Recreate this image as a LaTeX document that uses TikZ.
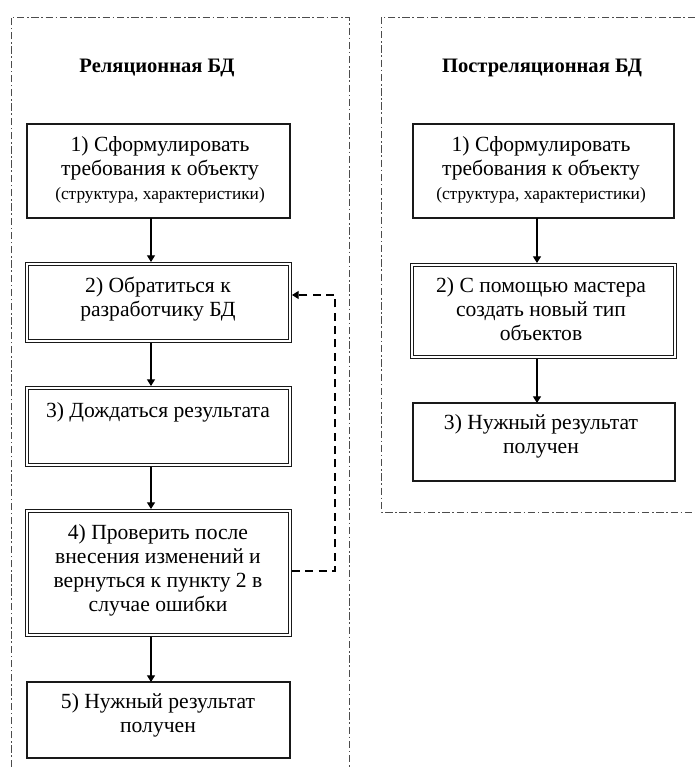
\documentclass[tikz,border=0pt]{standalone}
\usepackage{fontspec}
\setmainfont{Liberation Serif}
\usetikzlibrary{arrows.meta}

\tikzset{
  frame/.style={draw=black!70, line width=0.7pt,
    dash pattern=on 5.5pt off 2pt on 1.2pt off 2pt},
  plainbox/.style={draw=black!90, line width=1pt, rectangle, inner sep=0pt, outer sep=0pt},
  dblbox/.style={draw=black!90, line width=0.9pt, double, double distance=1.3pt,
    rectangle, inner sep=0pt, outer sep=1.5pt},
  boxtext/.style={align=center, inner sep=0pt, font=\fontsize{16.2}{18}\selectfont},
  heading/.style={inner sep=0pt, font=\fontsize{15.4}{18}\selectfont\bfseries},
  flow/.style={draw=black, line width=0.9pt, -{Triangle[width=6pt,length=5pt]}},
  back/.style={draw=black, line width=0.9pt, dash pattern=on 6pt off 4pt,
    -{Triangle[width=6pt,length=5pt]}},
}
\newcommand{\smallline}[1]{{\fontsize{13}{15}\selectfont #1}}

\begin{document}
\begin{tikzpicture}[x=0.75pt, y=-0.75pt]
  \useasboundingbox (0,0) rectangle (695,767);

  % dash-dot frames
  \draw[frame] (11,767) -- (11,17) -- (349,17) -- (349,767);
  \draw[frame] (695,17) -- (381,17) -- (381,512) -- (695,512);

  % headings
  \node[heading] (hl) at (157,68) {Реляционная БД};
  \node[heading] (hr) at (542,68) {Постреляционная БД};

  % left column
  \node[plainbox, minimum width=263*0.75pt, minimum height=94*0.75pt] (b1) at (158.5,171) {};
  \node[dblbox, minimum width=263*0.75pt, minimum height=77*0.75pt] (b2) at (158.5,302.5) {};
  \node[dblbox, minimum width=263*0.75pt, minimum height=77*0.75pt] (b3) at (158.5,426.5) {};
  \node[dblbox, minimum width=263*0.75pt, minimum height=124*0.75pt] (b4) at (158.5,573) {};
  \node[plainbox, minimum width=263*0.75pt, minimum height=76*0.75pt] (b5) at (158.5,720) {};

  \node[boxtext] (t1) at (160,170) {1) Сформулировать\\требования к объекту\\\smallline{(структура, характеристики)}};
  \node[boxtext] (t2) at (158,299) {2) Обратиться к\\разработчику БД};
  \node[boxtext] (t3) at (158,412) {3) Дождаться результата};
  \node[boxtext] (t4) at (158,570) {4) Проверить после\\внесения изменений и\\вернуться к пункту 2 в\\случае ошибки};
  \node[boxtext] (t5) at (158,715) {5) Нужный результат\\получен};

  % right column
  \node[plainbox, minimum width=261*0.75pt, minimum height=94*0.75pt] (r1) at (543.5,171) {};
  \node[dblbox, minimum width=263*0.75pt, minimum height=92*0.75pt] (r2) at (543.5,311) {};
  \node[plainbox, minimum width=262*0.75pt, minimum height=78*0.75pt] (r3) at (544,442) {};

  \node[boxtext] (u1) at (541,170) {1) Сформулировать\\требования к объекту\\\smallline{(структура, характеристики)}};
  \node[boxtext] (u2) at (541,309) {2) С помощью мастера\\создать новый тип\\объектов};
  \node[boxtext] (u3) at (541,436) {3) Нужный результат\\получен};

  % flow axes
  \coordinate (lx) at (151,0);
  \coordinate (rx) at (537,0);

  \draw[flow] (b1.south -| lx) -- (b2.north -| lx);
  \draw[flow] (b2.south -| lx) -- (b3.north -| lx);
  \draw[flow] (b3.south -| lx) -- (b4.north -| lx);
  \draw[flow] (b4.south -| lx) -- (b5.north -| lx);

  \draw[flow] (r1.south -| rx) -- (r2.north -| rx);
  \draw[flow] (r2.south -| rx) -- (r3.north -| rx);

  % return path to step 2
  \coordinate (loopa) at (335,571);
  \coordinate (loopb) at (335,295);
  \draw[back] (b4.east |- loopa) -- (loopa) -- (loopb) -- (b2.east |- loopb);
\end{tikzpicture}
\end{document}
